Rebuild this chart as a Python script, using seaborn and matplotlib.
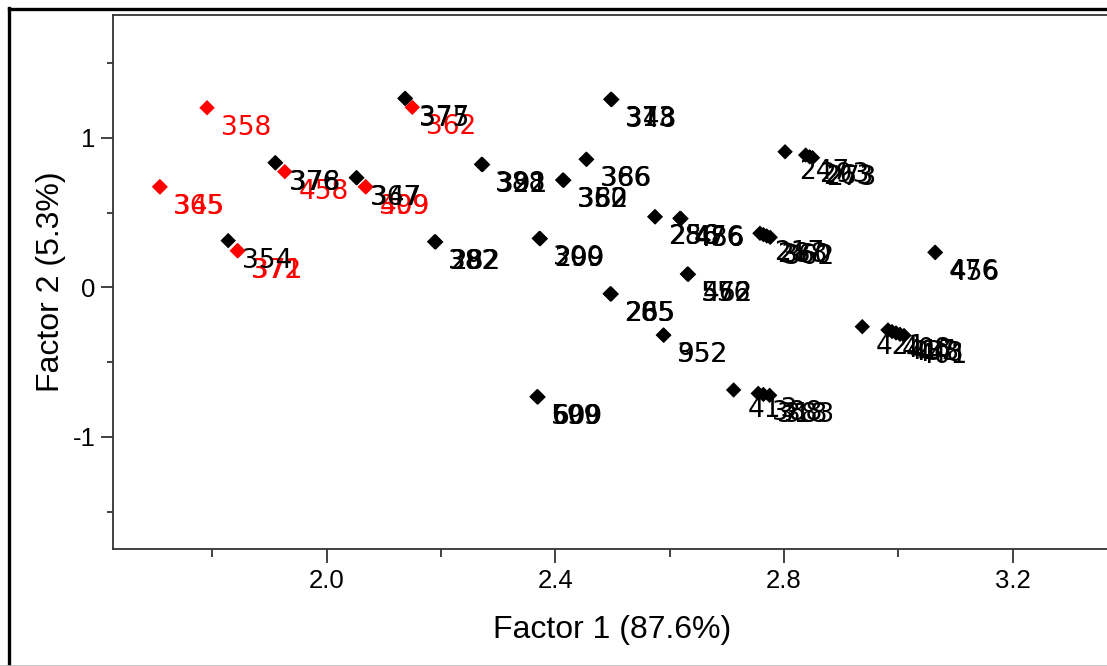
import matplotlib
matplotlib.use("Agg")
import matplotlib.pyplot as plt
from matplotlib.lines import Line2D
from matplotlib.ticker import MultipleLocator
import pandas as pd
import seaborn as sns

# Sample scores on the first two factors
factor1 = [
    # group B (red)
    1.791, 1.708, 1.709, 1.844, 1.845, 1.927, 2.068, 2.069, 2.150,
    # group A (black)
    1.828, 1.910, 1.911, 2.052, 2.053, 2.137, 2.138,
    2.271, 2.272, 2.273, 2.413, 2.414, 2.415, 2.454, 2.455,
    2.497, 2.498, 2.499, 2.574, 2.575, 2.618, 2.619, 2.620,
    2.189, 2.190, 2.191, 2.372, 2.373, 2.374,
    2.631, 2.632, 2.633, 2.496, 2.497, 2.498, 2.589, 2.590,
    2.368, 2.369, 2.370,
    2.712, 2.755, 2.764, 2.775,
    2.802, 2.838, 2.845, 2.850,
    2.758, 2.764, 2.770, 2.776,
    3.064, 3.065,
    2.937, 2.982, 2.989, 2.996, 3.003, 3.010,
]
factor2 = [
    1.200, 0.672, 0.671, 0.245, 0.244, 0.773, 0.672, 0.671, 1.203,
    0.312, 0.833, 0.832, 0.733, 0.732, 1.263, 1.262,
    0.822, 0.821, 0.820, 0.717, 0.716, 0.715, 0.856, 0.855,
    1.257, 1.256, 1.255, 0.472, 0.471, 0.461, 0.460, 0.459,
    0.305, 0.304, 0.303, 0.327, 0.326, 0.325,
    0.089, 0.088, 0.087, -0.043, -0.044, -0.045, -0.319, -0.320,
    -0.731, -0.732, -0.733,
    -0.686, -0.709, -0.716, -0.722,
    0.906, 0.884, 0.872, 0.866,
    0.361, 0.352, 0.343, 0.334,
    0.234, 0.233,
    -0.263, -0.285, -0.296, -0.305, -0.314, -0.322,
]
sample_ids = [
    "358", "365", "345", "372", "371", "458", "399", "409", "362",
    "354", "376", "378", "367", "347", "377", "375",
    "388", "322", "391", "352", "360", "382", "366", "386",
    "373", "313", "348", "286", "256", "476", "456", "486",
    "382", "392", "282", "300", "299", "209",
    "556", "572", "462", "205", "285", "265", "352", "952",
    "599", "600", "609",
    "413", "388", "318", "383",
    "247", "293", "263", "273",
    "217", "288", "360", "362",
    "476", "456",
    "421", "408", "417", "433", "448", "401",
]
groups = ["B"] * 9 + ["A"] * (len(factor1) - 9)

df = pd.DataFrame({"f1": factor1, "f2": factor2, "id": sample_ids, "grp": groups})
palette = {"A": "black", "B": "#ff0000"}

sns.set_theme(style="white")
plt.rcParams["font.family"] = ["Liberation Sans", "DejaVu Sans"]

W, H = 1107, 666
fig = plt.figure(figsize=(W / 100, H / 100), dpi=100)
fig.patch.set_facecolor("white")

left_px, right_px, top_px, bottom_px = 112.7, 1111.0, 15.0, 549.3
ax = fig.add_axes([left_px / W, 1 - bottom_px / H,
                   (right_px - left_px) / W, (bottom_px - top_px) / H])

sns.scatterplot(data=df, x="f1", y="f2", hue="grp", palette=palette,
                marker="D", s=62, linewidth=0, legend=False, ax=ax, zorder=3)

# Sample ids written just below-right of each point
for xv, yv, lab, g in zip(factor1, factor2, sample_ids, groups):
    ax.annotate(lab, (xv, yv), xytext=(10, -19.5), textcoords="offset points",
                ha="left", va="baseline", fontsize=19, color=palette[g],
                family=["DejaVu Sans"], zorder=4)

ax.set_xlim(1.626, 3.372)
ax.set_ylim(-1.751, 1.820)

ax.xaxis.set_minor_locator(MultipleLocator(0.2))
ax.yaxis.set_minor_locator(MultipleLocator(0.5))
ax.set_xticks([2.0, 2.4, 2.8, 3.2])
ax.set_xticklabels(["2.0", "2.4", "2.8", "3.2"])
ax.set_yticks([-1, 0, 1])
ax.set_yticklabels(["-1", "0", "1"])

ax.tick_params(axis="both", which="both", direction="out", color="#333333",
               width=1.3, labelsize=18.5, labelcolor="black", pad=4,
               bottom=True, left=True)
ax.tick_params(axis="x", which="major", length=10)
ax.tick_params(axis="x", which="minor", length=5.5)
ax.tick_params(axis="y", which="major", length=8.5)
ax.tick_params(axis="y", which="minor", length=4)

for side in ("left", "bottom", "top", "right"):
    ax.spines[side].set_visible(True)
    ax.spines[side].set_color("#333333")
    ax.spines[side].set_linewidth(1.3)

ax.set_xlabel("Factor 1 (87.6%)", fontsize=23, color="black", labelpad=16)
ax.set_ylabel("Factor 2 (5.3%)", fontsize=23, color="black", labelpad=5)

# Page frame around the chart
fig.add_artist(Line2D([8.5 / W, 8.5 / W], [0, 1 - 7.5 / H], transform=fig.transFigure,
                      color="black", linewidth=2.4, solid_capstyle="projecting"))
fig.add_artist(Line2D([8.5 / W, 1], [1 - 8.5 / H, 1 - 8.5 / H], transform=fig.transFigure,
                      color="black", linewidth=2.4, solid_capstyle="projecting"))
fig.add_artist(Line2D([0, 1], [0.5 / H, 0.5 / H], transform=fig.transFigure,
                      color="#bbbbbb", linewidth=1.2))

fig.savefig("out.png", dpi=100, facecolor="white")
